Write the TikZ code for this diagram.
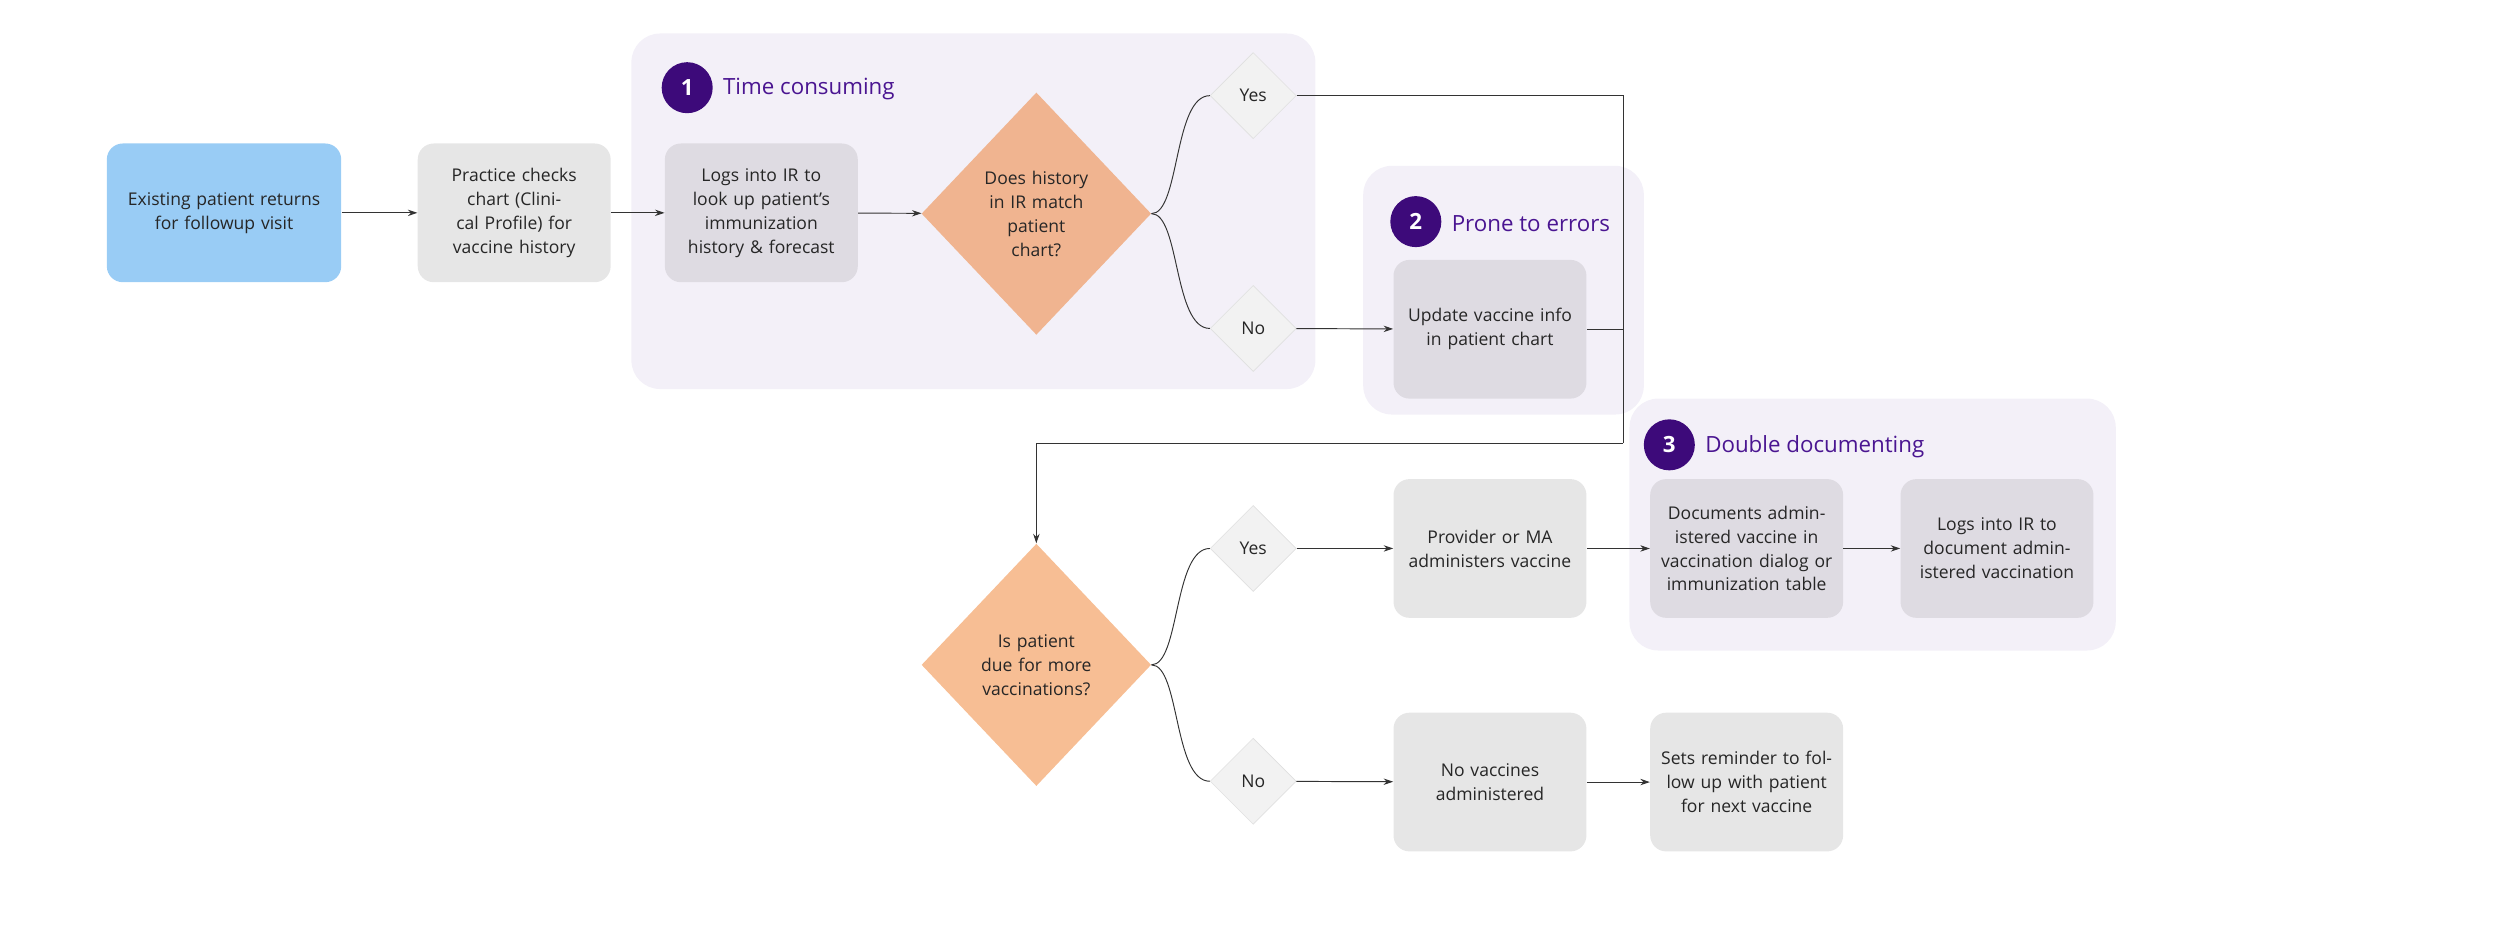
\documentclass[tikz,border=0pt]{standalone}
\usepackage{fontspec}
\setmainfont{Open Sans}
\usetikzlibrary{shapes.geometric,arrows.meta}
\definecolor{reg}{HTML}{F3F0F8}
\definecolor{gbox}{HTML}{E6E6E6}
\definecolor{pbox}{HTML}{DEDBE2}
\definecolor{purp}{HTML}{3D0A7A}
\definecolor{ptext}{HTML}{4A1591}
\begin{document}
\begin{tikzpicture}[x=1pt,y=-1pt,
  every node/.style={font=\fontsize{11}{15}\selectfont, text=black!85},
  box/.style={draw=none, rounded corners=10pt, minimum width=121pt, minimum height=87pt, text width=108pt, align=center, inner sep=0pt},
  dia/.style={diamond, aspect=0.95, minimum width=144pt, minimum height=152pt, inner sep=0pt, text width=72pt, align=center},
  sd/.style={diamond, fill=black!5, draw=black!12, minimum width=54pt, minimum height=54pt, inner sep=0pt, aspect=1},
  region/.style={fill=reg, rounded corners=18pt},
  num/.style={circle, fill=purp, minimum size=32pt, inner sep=0pt, text=white, font=\fontsize{14}{14}\selectfont\bfseries},
  ttl/.style={anchor=west, text=ptext, font=\fontsize{14}{16}\selectfont},
  arr/.style={-{Stealth[length=6pt,width=4pt]}, black!80, line width=0.6pt},
  ln/.style={black!80, line width=0.6pt}]
\useasboundingbox (0,0) rectangle (1568,596.4);
% regions
\fill[region] (396,21) rectangle (825,244);
\fill[region] (855,104) rectangle (1031,260);
\fill[region] (1022,250) rectangle (1327,408);
\node[num] (n1) at (431,55) {1}; \node[ttl] (t1) at (450,56) {Time consuming};
\node[num] (n2) at (888,139) {2}; \node[ttl] (t2) at (907,140) {Prone to errors};
\node[num] (n3) at (1047,279) {3}; \node[ttl] (t3) at (1066,280) {Double documenting};
% boxes
\node[box, fill=blue!0, fill={rgb,255:red,153;green,204;blue,245}, minimum width=147pt, text width=130pt] (a) at (140.5,133.5) {Existing patient returns\\for followup visit};
\node[box, fill=gbox] (b) at (322.5,133.5) {Practice checks chart (Clinical Profile) for vaccine history};
\node[box, fill=pbox, text width=112pt] (c) at (477.5,133.5) {Logs into IR to look up patient's immunization history \& forecast};
\node[dia, fill={rgb,255:red,240;green,180;blue,144}] (d1) at (650,134) {Does history\\in IR match\\patient\\chart?};
\node[sd] (y1) at (786,60) {Yes};
\node[sd] (no1) at (786,206) {No};
\node[box, fill=pbox] (u) at (934.5,206.5) {Update vaccine info in patient chart};
\node[dia, fill={rgb,255:red,247;green,190;blue,148}] (d2) at (650,417) {Is patient\\due for more\\vaccinations?};
\node[sd] (y2) at (786,344) {Yes};
\node[sd] (no2) at (786,490) {No};
\node[box, fill=gbox] (p) at (934.5,344) {Provider or MA administers vaccine};
\node[box, fill=pbox] (dc) at (1095.5,344) {Documents administered vaccine in vaccination dialog or immunization table};
\node[box, fill=pbox] (li) at (1252.5,344) {Logs into IR to document administered vaccination};
\node[box, fill=gbox] (nv) at (934.5,490.5) {No vaccines\\administered};
\node[box, fill=gbox] (sr) at (1095.5,490.5) {Sets reminder to follow up with patient for next vaccine};
\coordinate (j1) at (1018,60);
\coordinate (j2) at (1018,278);
\coordinate (j3) at (650,278);
% connectors
\draw[arr] (a) -- (b);
\draw[arr] (b) -- (c);
\draw[arr] (c) -- (d1);
\draw[ln] (d1.east) .. controls (740,134) and (736,60) .. (y1.west);
\draw[ln] (d1.east) .. controls (740,134) and (736,206) .. (no1.west);
\draw[arr] (no1) -- (u);
\draw[ln] (y1.east) -- (j1) -- (j2);
\draw[ln] (u.east) -- (u.east -| j1);
\draw[arr] (j2) -- (j3) -- (d2.north);
\draw[ln] (d2.east) .. controls (740,417) and (736,344) .. (y2.west);
\draw[ln] (d2.east) .. controls (740,417) and (736,490) .. (no2.west);
\draw[arr] (y2) -- (p);
\draw[arr] (no2) -- (nv);
\draw[arr] (p) -- (dc);
\draw[arr] (dc) -- (li);
\draw[arr] (nv) -- (sr);
\end{tikzpicture}
\end{document}
